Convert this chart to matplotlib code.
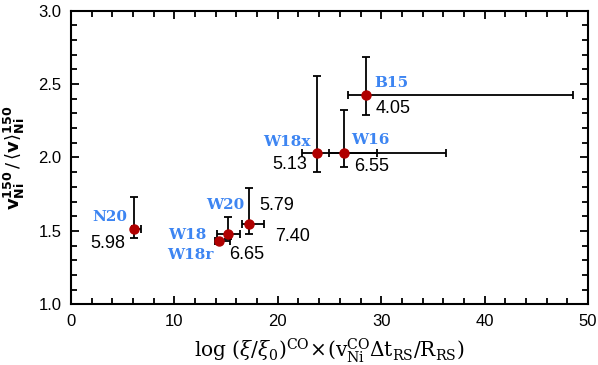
import matplotlib
matplotlib.use("Agg")
import matplotlib.pyplot as plt
import numpy as np

# ---- data ----
models = ['N20', 'W18r', 'W18', 'W20', 'W18x', 'W16', 'B15']
xval = [6.12, 14.35, 15.18, 17.24, 23.75, 26.43, 28.5]
yval = [1.511, 1.433, 1.477, 1.547, 2.029, 2.029, 2.426]
xerr_lo = [0.2, 0.4, 1.1, 0.74, 1.45, 1.43, 1.7]
xerr_hi = [0.62, 1.05, 1.16, 1.43, 5.85, 9.87, 20.0]
yerr_lo = [0.061, 0.01, 0.03, 0.068, 0.126, 0.096, 0.136]
yerr_hi = [0.222, 0.01, 0.116, 0.243, 0.528, 0.294, 0.257]

name_labels = ['N20', 'W18r', 'W18', 'W20', 'W18x', 'W16', 'B15']
name_pos = [(3.77, 1.597), (11.51, 1.336), (11.29, 1.472), (14.89, 1.676),
            (20.86, 2.108), (28.98, 2.119), (31.02, 2.505)]
num_labels = ['5.98', '6.65', '5.79', '7.40', '5.13', '6.55', '4.05']
num_pos = [(3.61, 1.416), (16.99, 1.336), (19.89, 1.676), (21.44, 1.465),
           (21.18, 1.949), (29.08, 1.937), (31.17, 2.335)]

xticks = [0, 10, 20, 30, 40, 50]
yticks = [1.0, 1.5, 2.0, 2.5, 3.0]

blue = '#3d85f2'
red = '#b00000'

plt.rcParams['mathtext.fontset'] = 'dejavuserif'

fig = plt.figure(figsize=(5.98, 3.65), dpi=100)
ax = fig.add_axes([0.1187, 0.1663, 0.9833 - 0.1187, 0.9707 - 0.1663])

ax.errorbar(xval, yval,
            xerr=[xerr_lo, xerr_hi], yerr=[yerr_lo, yerr_hi],
            fmt='none', ecolor='black', elinewidth=1.3, capsize=3,
            capthick=1.3, zorder=2)
ax.plot(xval, yval, 'o', color=red, markersize=6.5, zorder=3)

for t, (px, py) in zip(name_labels, name_pos):
    ax.text(px, py, t, color=blue, fontsize=11, family='DejaVu Serif',
            fontweight='bold', ha='center', va='center')
for t, (px, py) in zip(num_labels, num_pos):
    ax.text(px, py, t, color='black', fontsize=13, family='Liberation Sans',
            ha='center', va='center')

ax.set_xlim(0, 50)
ax.set_ylim(1.0, 3.0)
ax.set_xticks(xticks)
ax.set_yticks(yticks)
ax.set_xticklabels([str(v) for v in xticks], family='Liberation Sans', fontsize=12)
ax.set_yticklabels([f'{v:.1f}' for v in yticks], family='Liberation Sans', fontsize=12)
ax.xaxis.set_minor_locator(matplotlib.ticker.MultipleLocator(2))
ax.yaxis.set_minor_locator(matplotlib.ticker.MultipleLocator(0.1))
ax.tick_params(which='both', direction='in', top=True, right=True, width=1.3)
ax.tick_params(which='major', length=6, pad=7)
ax.tick_params(which='minor', length=4)
for s in ax.spines.values():
    s.set_linewidth(1.5)

ax.set_xlabel(r'$\mathrm{log}\ (\xi/\xi_0)^{\mathrm{CO}}\!\times\!(\mathrm{v}_{\mathrm{Ni}}^{\mathrm{CO}}\Delta\mathrm{t}_{\mathrm{RS}}/\mathrm{R}_{\mathrm{RS}})$',
              fontsize=14.5, labelpad=5)
ax.set_ylabel(r'$\mathbf{v}_{\mathbf{Ni}}^{\mathbf{150}}\,/\,\left\langle\mathbf{v}\right\rangle_{\mathbf{Ni}}^{\mathbf{150}}$',
              fontsize=13, labelpad=8, math_fontfamily='dejavusans')

fig.savefig('out.png', dpi=100)
